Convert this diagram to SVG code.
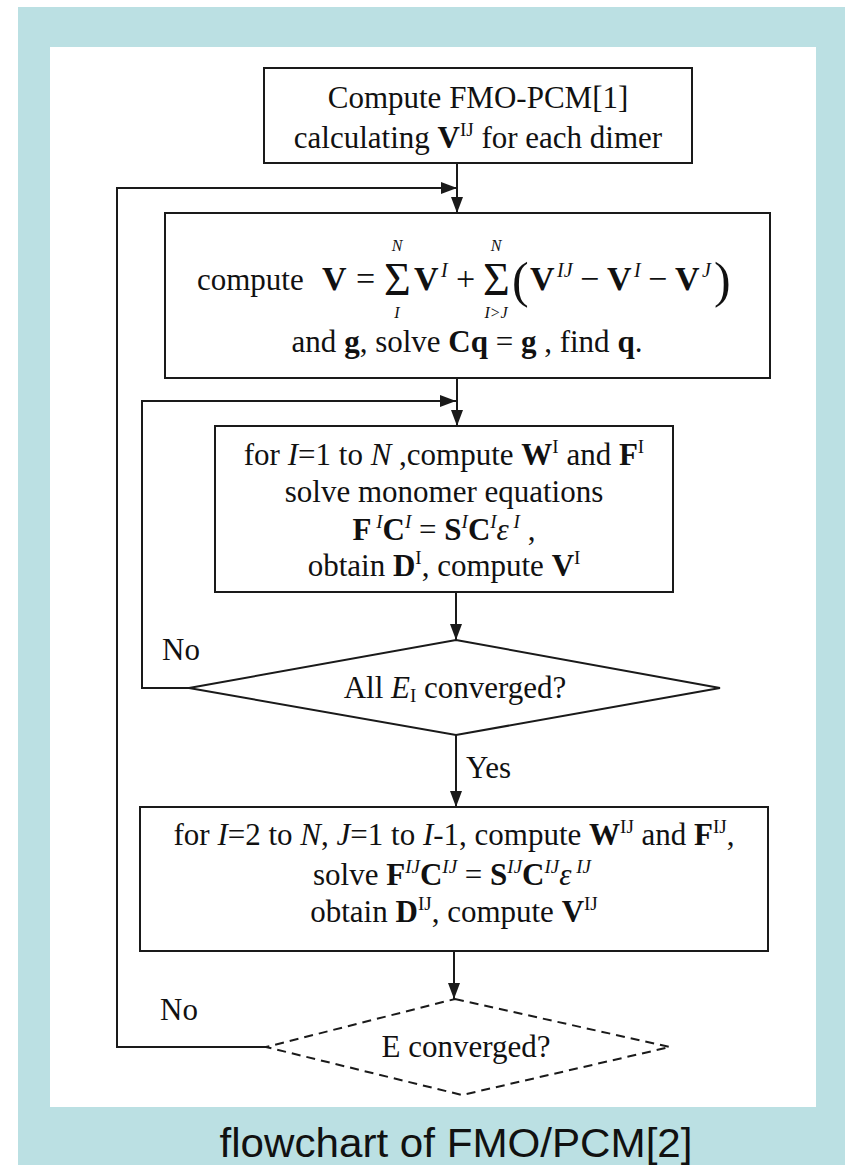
<svg xmlns="http://www.w3.org/2000/svg" width="845" height="1165" viewBox="0 0 845 1165">
<defs>
<style>
.frame{fill:#bbe0e3}
.panel{fill:#ffffff}
.box{fill:#ffffff;stroke:#1a1a1a;stroke-width:2}
.dbox{fill:#ffffff;stroke:#1a1a1a;stroke-width:2;stroke-dasharray:9 6}
.ln{fill:none;stroke:#1a1a1a;stroke-width:2}
.t{font-family:"Liberation Serif","Times New Roman",serif;font-size:31px;fill:#111}
.b{font-weight:bold}
.i{font-style:italic}
.sup{font-size:19px}
.eq{font-size:34px}
.esup{font-size:20px;font-style:italic}
.lim{font-size:16px;font-style:italic}
.big{font-size:46px}
.par{font-size:50px}
.cap{font-family:"Liberation Sans",Arial,sans-serif;font-size:40px;fill:#111}
</style>
<marker id="ah" viewBox="0 0 16 12" refX="16" refY="6" markerWidth="16" markerHeight="12" markerUnits="userSpaceOnUse" orient="auto">
<path d="M0,0 L16,6 L0,12 Z" fill="#1a1a1a"/>
</marker>
</defs>

<rect class="frame" x="18" y="7" width="827" height="1158"/>
<rect class="panel" x="50" y="47" width="766" height="1060"/>

<g id="connectors">
<path class="ln" d="M457,163 L457,213" marker-end="url(#ah)"/>
<path class="ln" d="M266,1047 L117,1047 L117,188 L457,188" marker-end="url(#ah)"/>
<path class="ln" d="M457,378 L457,426" marker-end="url(#ah)"/>
<path class="ln" d="M189,688 L142,688 L142,401 L456,401" marker-end="url(#ah)"/>
<path class="ln" d="M456,592 L456,640" marker-end="url(#ah)"/>
<path class="ln" d="M456,735 L456,807" marker-end="url(#ah)"/>
<path class="ln" d="M454,951 L454,999" marker-end="url(#ah)"/>
<text class="t" x="162" y="660">No</text>
<text class="t" x="466" y="778">Yes</text>
<text class="t" x="160" y="1020">No</text>
</g>

<g id="start">
<rect class="box" x="264" y="68" width="428" height="95"/>
<text class="t" x="478" y="108" text-anchor="middle">Compute FMO-PCM[1]</text>
<text class="t" x="478" y="148" text-anchor="middle">calculating <tspan class="b">V</tspan><tspan class="sup" dy="-12">IJ</tspan><tspan dy="12"> for each dimer</tspan></text>
</g>

<g id="compute-v">
<rect class="box" x="165" y="213" width="605" height="165"/>
<text class="t" x="197" y="290">compute</text>
<text class="t eq b" x="322" y="290">V</text>
<text class="t eq" x="356" y="290">=</text>
<text class="t big" x="384" y="295">Σ</text>
<text class="t lim" x="397" y="251" text-anchor="middle">N</text>
<text class="t lim" x="397" y="318" text-anchor="middle">I</text>
<text class="t eq b" x="414" y="290">V</text>
<text class="t esup" x="441" y="277">I</text>
<text class="t eq" x="456" y="290">+</text>
<text class="t big" x="483" y="295">Σ</text>
<text class="t lim" x="496" y="251" text-anchor="middle">N</text>
<text class="t lim" x="496" y="318" text-anchor="middle">I&gt;J</text>
<text class="t par" x="512" y="297">(</text>
<text class="t eq b" x="530" y="290">V</text>
<text class="t esup" x="557" y="277">IJ</text>
<text class="t eq" x="580" y="290">−</text>
<text class="t eq b" x="607" y="290">V</text>
<text class="t esup" x="634" y="277">I</text>
<text class="t eq" x="648" y="290">−</text>
<text class="t eq b" x="675" y="290">V</text>
<text class="t esup" x="702" y="277">J</text>
<text class="t par" x="714" y="297">)</text>
<text class="t" x="467" y="352" text-anchor="middle">and <tspan class="b">g</tspan>, solve  <tspan class="b">Cq</tspan> = <tspan class="b">g</tspan> , find <tspan class="b">q</tspan>.</text>
</g>

<g id="monomer">
<rect class="box" x="215" y="426" width="458" height="166"/>
<text class="t" x="444" y="465" text-anchor="middle">for <tspan class="i">I</tspan>=1 to <tspan class="i">N</tspan> ,compute <tspan class="b">W</tspan><tspan class="sup" dy="-12">I</tspan><tspan dy="12"> and </tspan><tspan class="b">F</tspan><tspan class="sup" dy="-12">I</tspan></text>
<text class="t" x="444" y="502" text-anchor="middle">solve monomer equations</text>
<text class="t" x="444" y="540" text-anchor="middle"><tspan class="b">F</tspan><tspan class="sup i" dy="-12"> I</tspan><tspan class="b" dy="12">C</tspan><tspan class="sup i" dy="-12">I</tspan><tspan dy="12"> = </tspan><tspan class="b">S</tspan><tspan class="sup i" dy="-12">I</tspan><tspan class="b" dy="12">C</tspan><tspan class="sup i" dy="-12">I</tspan><tspan class="i" dy="12">ε</tspan><tspan class="sup i" dy="-12"> I</tspan><tspan dy="12"> ,</tspan></text>
<text class="t" x="444" y="576" text-anchor="middle">obtain <tspan class="b">D</tspan><tspan class="sup" dy="-12">I</tspan><tspan dy="12">, compute </tspan><tspan class="b">V</tspan><tspan class="sup" dy="-12">I</tspan></text>
</g>

<g id="all-ei-converged">
<polygon class="box" points="456,640 720,688 456,735 189,688"/>
<text class="t" x="455" y="698" text-anchor="middle">All <tspan class="i">E</tspan><tspan class="sup" dy="4">I</tspan><tspan dy="-4"> converged?</tspan></text>
</g>

<g id="dimer">
<rect class="box" x="140" y="807" width="628" height="144"/>
<text class="t" x="454" y="845" text-anchor="middle">for <tspan class="i">I</tspan>=2 to <tspan class="i">N</tspan>, <tspan class="i">J</tspan>=1 to <tspan class="i">I</tspan>-1, compute <tspan class="b">W</tspan><tspan class="sup" dy="-12">IJ</tspan><tspan dy="12"> and </tspan><tspan class="b">F</tspan><tspan class="sup" dy="-12">IJ</tspan><tspan dy="12">,</tspan></text>
<text class="t" x="452" y="885" text-anchor="middle">solve  <tspan class="b">F</tspan><tspan class="sup i" dy="-12">IJ</tspan><tspan class="b" dy="12">C</tspan><tspan class="sup i" dy="-12">IJ</tspan><tspan dy="12"> = </tspan><tspan class="b">S</tspan><tspan class="sup i" dy="-12">IJ</tspan><tspan class="b" dy="12">C</tspan><tspan class="sup i" dy="-12">IJ</tspan><tspan class="i" dy="12">ε</tspan><tspan class="sup i" dy="-12"> IJ</tspan></text>
<text class="t" x="454" y="922" text-anchor="middle">obtain <tspan class="b">D</tspan><tspan class="sup" dy="-12">IJ</tspan><tspan dy="12">, compute </tspan><tspan class="b">V</tspan><tspan class="sup" dy="-12">IJ</tspan></text>
</g>

<g id="e-converged">
<polygon class="dbox" points="455,999 670,1047 462,1095 266,1047"/>
<text class="t" x="466" y="1057" text-anchor="middle">E converged?</text>
</g>

<text class="cap" x="456" y="1157" text-anchor="middle" textLength="473" lengthAdjust="spacingAndGlyphs">flowchart of FMO/PCM[2]</text>
</svg>
